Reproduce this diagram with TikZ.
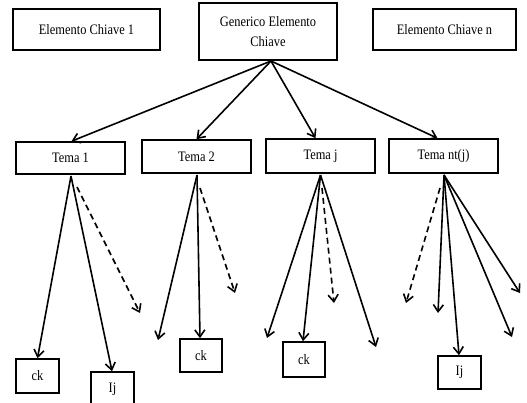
\documentclass[tikz,border=0pt]{standalone}
\usepackage{fontspec}
\setmainfont[FakeStretch=0.86]{Liberation Serif}
\usetikzlibrary{arrows.meta,calc}
\begin{document}
\begin{tikzpicture}[x=1bp,y=-1bp,
  box/.style={draw,line width=1.6bp,inner sep=1bp,font=\fontsize{14.5}{15}\selectfont,align=center},
  arr/.style={line width=1.6bp,-{Straight Barb[length=7bp,width=10bp,line width=1.6bp]}},
  darr/.style={arr,dash pattern=on 6bp off 4bp}]
\useasboundingbox (0,0) rectangle (527,402);
% top row
\node[box,minimum width=147bp,minimum height=41bp] (e1) at (86.5,29.5) {Elemento Chiave 1};
\node[box,minimum width=138bp,minimum height=57bp,font=\fontsize{14.5}{20}\selectfont] (g) at (268,31.5) {Generico Elemento\\Chiave};
\node[box,minimum width=143bp,minimum height=41bp] (en) at (444.5,29.5) {Elemento Chiave n};
% temi
\node[box,minimum width=109bp,minimum height=32bp] (t1) at (70.5,158) {Tema 1};
\node[box,minimum width=109bp,minimum height=33bp] (t2) at (196.5,156.5) {Tema 2};
\node[box,minimum width=109bp,minimum height=34bp] (t3) at (320.5,156) {Tema j};
\node[box,minimum width=109bp,minimum height=34bp] (t4) at (443.5,156) {Tema nt(j)};
% leaves
\node[box,minimum width=43bp,minimum height=34bp] (ck1) at (37.5,376) {ck};
\node[box,minimum width=43bp,minimum height=34bp] (ij1) at (112.5,389) {Ij};
\node[box,minimum width=42bp,minimum height=33bp] (ck2) at (201,355.5) {ck};
\node[box,minimum width=42bp,minimum height=35bp] (ck3) at (304,359.5) {ck};
\node[box,minimum width=43bp,minimum height=33bp] (ij2) at (459.5,372.5) {Ij};
% free ends and dashed starts
\coordinate (gs) at (271,61);
\coordinate (d1s) at (77,187);   \coordinate (d1e) at (140,313);
\coordinate (a2l) at (158,340);
\coordinate (d2s) at (200,188);  \coordinate (d2e) at (235,293);
\coordinate (a3l) at (267,338);  \coordinate (a3r) at (376,347);
\coordinate (d3s) at (322,188);  \coordinate (d3e) at (334,303);
\coordinate (d4s) at (440,188);  \coordinate (d4e) at (406,303);
\coordinate (a4a) at (438,313);  \coordinate (a4b) at (512,337);
\coordinate (a4c) at (520,293);
\coordinate (o1) at (71,176); \coordinate (o2) at (197,175);
\coordinate (o3) at (320.5,175); \coordinate (o4) at (444,175);
% top arrows
\draw[arr] (gs) -- ([xshift=1bp]t1.north);
\draw[arr] (gs) -- (t2.north);
\draw[arr] (gs) -- ([xshift=-5bp]t3.north);
\draw[arr] (gs) -- ([xshift=-6bp]t4.north);
% tema 1
\draw[arr] (o1) -- (ck1.north);
\draw[arr] (o1) -- ([xshift=-0.5bp]ij1.north);
\draw[darr] (d1s) -- (d1e);
% tema 2
\draw[arr] (o2) -- (a2l);
\draw[arr] (o2) -- ([xshift=-1bp]ck2.north);
\draw[darr] (d2s) -- (d2e);
% tema j
\draw[arr] (o3) -- (a3l);
\draw[arr] (o3) -- ([xshift=-1bp]ck3.north);
\draw[darr] (d3s) -- (d3e);
\draw[arr] (o3) -- (a3r);
% tema nt(j)
\draw[darr] (d4s) -- (d4e);
\draw[arr] (o4) -- (a4a);
\draw[arr] (o4) -- ([xshift=-0.5bp]ij2.north);
\draw[arr] (o4) -- (a4b);
\draw[arr] (o4) -- (a4c);
\end{tikzpicture}
\end{document}
